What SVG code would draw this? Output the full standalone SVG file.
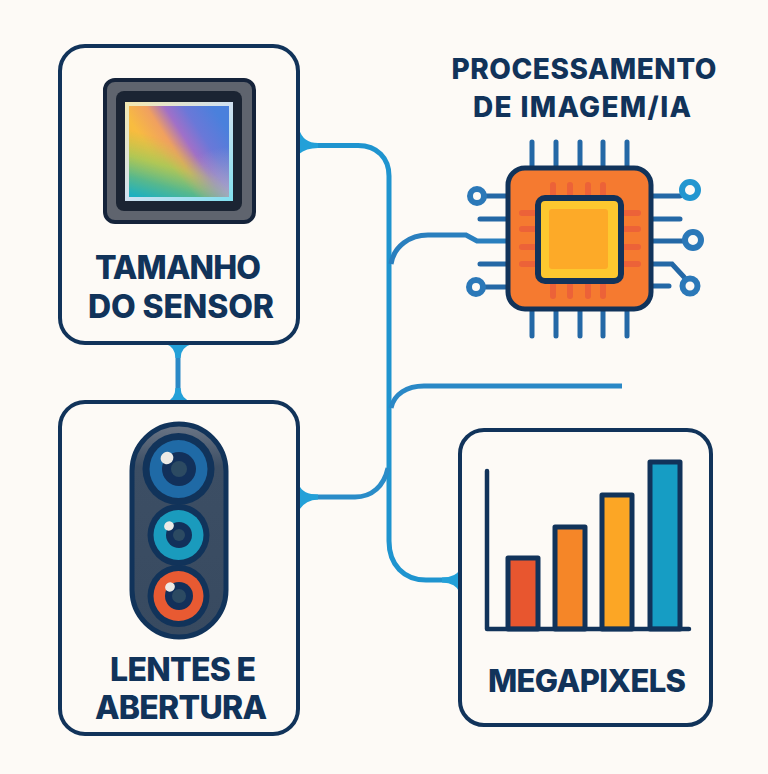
<svg xmlns="http://www.w3.org/2000/svg" width="768" height="774" viewBox="0 0 768 774">
<style>
.bg{fill:#fdfaf6}
.box{fill:#fdfaf6;stroke:#11335a;stroke-width:4}
.lbl{font-family:"Inter","Liberation Sans",sans-serif;font-weight:800;fill:#11335a;text-anchor:middle}
.c{fill:none;stroke:#2a8cc8;stroke-width:5;stroke-linecap:butt}
.fl{fill:#23a0d8}
.pin{stroke:#2468a6;stroke-width:5;stroke-linecap:round;fill:none}
.pad{fill:#fdfaf6;stroke:#2b78b8;stroke-width:6}
.st{stroke:#ec6238;stroke-width:6;stroke-linecap:round;fill:none}
.bar{stroke:#11335a;stroke-width:5;stroke-linejoin:round}
.ring{fill:#11335a}
.hl{fill:#eceae6}
.pupil{fill:#12305a}
.core{fill:#2c4a62}
</style>
<defs>
<linearGradient id="g1" x1="0.95" y1="0.2" x2="0.1" y2="0.7">
<stop offset="0" stop-color="#4a80dc"/><stop offset="0.25" stop-color="#6a78d8"/><stop offset="0.42" stop-color="#a070c8"/><stop offset="0.58" stop-color="#f0a060"/><stop offset="0.8" stop-color="#f8bc40"/><stop offset="1" stop-color="#f8bc38"/>
</linearGradient>
<radialGradient id="g2" cx="1" cy="1" r="0.55"><stop offset="0" stop-color="#a8a8c8"/><stop offset="1" stop-color="#a8a8c8" stop-opacity="0"/></radialGradient>
<linearGradient id="g3" x1="0.3" y1="0.35" x2="0.1" y2="1"><stop offset="0" stop-color="#b8c850" stop-opacity="0"/><stop offset="0.4" stop-color="#a8c858" stop-opacity="0.9"/><stop offset="0.72" stop-color="#58b88c"/><stop offset="1" stop-color="#1eb0c0"/></linearGradient>
<linearGradient id="g4" x1="0" y1="0" x2="1" y2="1"><stop offset="0" stop-color="#f4e8b0"/><stop offset="0.5" stop-color="#d0e0f0"/><stop offset="1" stop-color="#80e0f0"/></linearGradient>
<linearGradient id="g5" x1="0" y1="0" x2="0" y2="1"><stop offset="0" stop-color="#6c7686"/><stop offset="0.2" stop-color="#3c4e64"/><stop offset="1" stop-color="#384a60"/></linearGradient>
<linearGradient id="g6" x1="0.95" y1="0.2" x2="0.25" y2="0.75"><stop offset="0.45" stop-color="#000"/><stop offset="0.8" stop-color="#fff"/></linearGradient>
<mask id="m1"><rect x="129" y="106" width="100" height="91" fill="url(#g6)"/></mask>
</defs>
<rect class="bg" width="768" height="774"/>
<g id="connectors">
<path class="c" style="stroke:#1f94cf" d="M297 145.500H358C377 145.500 389 158 389 176V541C389 565 404 580 426 580H460"/>
<path class="c" style="stroke:#2a7fbe" d="M391 264C394 246 410 235 428 235H466L477 241H508"/>
<path class="c" style="stroke:#2a88c6" d="M391 408C394 394 407 386 424 386H622"/>
<path class="c" d="M297 497H355C372 497 384 486 388 468"/>
<path class="c" style="stroke:#2a88c6" d="M178 344V402"/>
<path class="fl" d="M299 129Q303 143 318 143V148Q306 148 299 154Z"/>
<path class="fl" d="M299 485Q303 494.500 318 494.500V499.500Q306 499.500 299 510Z"/>
<path class="fl" d="M460 569Q456 577.500 442 577.500V582.500Q456 582.500 460 593Z"/>
<path class="fl" d="M166 344Q175 347 175.500 358H180.500Q181 347 192 344Z"/>
<path class="fl" d="M166 402Q175 399 175.500 388H180.500Q181 399 192 402Z"/>
</g>
<g id="node-sensor">
<rect class="box" x="60" y="46" width="238" height="297" rx="25"/>
<rect x="105" y="80" width="149" height="142" rx="10" fill="#5f646e" stroke="#15233a" stroke-width="4"/>
<rect x="116" y="91" width="126" height="120" rx="8" fill="#1b2433"/>
<rect x="125" y="102" width="108" height="99" fill="url(#g4)"/>
<rect x="129" y="106" width="100" height="91" fill="url(#g1)"/>
<rect x="129" y="106" width="100" height="91" fill="url(#g2)"/>
<rect x="129" y="106" width="100" height="91" fill="url(#g3)" mask="url(#m1)"/>
<text class="lbl" x="178" y="279" font-size="32" textLength="166">TAMANHO</text>
<text class="lbl" x="181" y="318" font-size="32" textLength="186">DO SENSOR</text>
</g>
<g id="node-processing">
<text class="lbl" x="584" y="79" font-size="28" textLength="265">PROCESSAMENTO</text>
<text class="lbl" x="582" y="117" font-size="28" textLength="218">DE IMAGEM/IA</text>
<path class="pin" d="M532 142V168M556 142V168M580 142V168M603 142V168M627 142V168M532 309V336M556 309V336M580 309V336M603 309V336M627 309V336"/>
<path class="pin" d="M484 196H508M480 219H508M480 264H508M484 287H508M651 196H680M651 219H680M651 241H686M651 264H672L684 277M651 286H669"/>
<circle class="pad" cx="477" cy="196" r="7"/>
<circle class="pad" cx="476" cy="287" r="7"/>
<circle class="pad" style="stroke:#2296d0" cx="690" cy="190" r="8"/>
<circle class="pad" cx="693" cy="240" r="8"/>
<circle class="pad" cx="690" cy="286" r="7.500"/>
<rect x="508" y="168" width="143" height="141" rx="17" fill="#f57a30" stroke="#11335a" stroke-width="5"/>
<path class="st" d="M553 185V195M570 185V195M588 185V195M603 185V195M553 285V296M570 285V296M588 285V296M603 285V296M522 213H535M522 229H535M522 247H535M522 264H535M624 213H638M624 229H638M624 247H638M624 264H638"/>
<rect x="538" y="198" width="83" height="83" rx="7" fill="#fdc82f" stroke="#11335a" stroke-width="6"/>
<rect x="549" y="209" width="59" height="60" rx="3" fill="#fdaa28"/>
</g>
<g id="node-lenses">
<rect class="box" x="60" y="402" width="238" height="332" rx="25"/>
<rect x="132" y="424" width="94" height="213" rx="47" fill="url(#g5)" stroke="#11335a" stroke-width="5"/>
<circle class="ring" cx="178.500" cy="469" r="36"/>
<circle cx="178.500" cy="469" r="29" fill="#1f6aa6"/>
<circle class="pupil" cx="179" cy="469" r="17"/>
<circle class="core" cx="179" cy="469" r="8"/>
<ellipse class="hl" cx="167" cy="458" rx="6.500" ry="6" transform="rotate(-30 167 458)"/>
<circle class="ring" cx="178.500" cy="535" r="31"/>
<circle cx="178.500" cy="535" r="25" fill="#1a9bbd"/>
<circle class="pupil" cx="179" cy="535" r="13"/>
<circle class="core" cx="179" cy="535" r="6"/>
<ellipse class="hl" cx="169" cy="526" rx="5" ry="4.500" transform="rotate(-30 169 526)"/>
<circle class="ring" cx="178.500" cy="596" r="31"/>
<circle cx="178.500" cy="596" r="25" fill="#e85a32"/>
<circle class="pupil" cx="179" cy="596" r="14"/>
<circle class="core" cx="179" cy="596" r="7"/>
<ellipse class="hl" cx="170" cy="587" rx="5" ry="4.500" transform="rotate(-30 170 587)"/>
<text class="lbl" x="183" y="681" font-size="32" textLength="146">LENTES E</text>
<text class="lbl" x="181" y="719" font-size="32" textLength="172">ABERTURA</text>
</g>
<g id="node-megapixels">
<rect class="box" x="460" y="430" width="251" height="295" rx="24"/>
<rect class="bar" x="508" y="558" width="30" height="71" fill="#e8562f"/>
<rect class="bar" x="555" y="527" width="30" height="102" fill="#f58628"/>
<rect class="bar" x="602" y="495" width="30" height="134" fill="#fca625"/>
<rect class="bar" x="650" y="462" width="30" height="167" fill="#169dc4"/>
<path d="M487 471V629H689" fill="none" stroke="#11335a" stroke-width="4.500" stroke-linecap="round" stroke-linejoin="round"/>
<text class="lbl" x="587" y="692" font-size="31" textLength="198">MEGAPIXELS</text>
</g>
</svg>
